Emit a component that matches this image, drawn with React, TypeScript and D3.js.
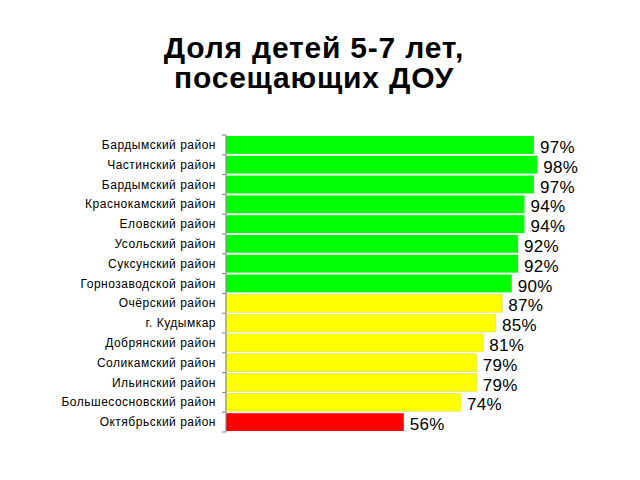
import React from "react";
import * as d3 from "d3";

const categories = [
  "Бардымский район",
  "Частинский район",
  "Бардымский район",
  "Краснокамский район",
  "Еловский район",
  "Усольский район",
  "Суксунский район",
  "Горнозаводской район",
  "Очёрский район",
  "г. Кудымкар",
  "Добрянский район",
  "Соликамский район",
  "Ильинский район",
  "Большесосновский район",
  "Октябрьский район",
];
const values = [97, 98, 97, 94, 94, 92, 92, 90, 87, 85, 81, 79, 79, 74, 56];
const colors = [
  "#00ff00", "#00ff00", "#00ff00", "#00ff00", "#00ff00", "#00ff00", "#00ff00", "#00ff00",
  "#ffff00", "#ffff00", "#ffff00", "#ffff00", "#ffff00", "#ffff00",
  "#ff0000",
];
const titleLines = ["Доля детей 5-7 лет,", "посещающих ДОУ"];

export default function App() {
  const W = 640, H = 480;
  const x = d3.scaleLinear().domain([0, 100]).range([226, 543.5]);
  const y = d3.scaleBand<number>().domain(d3.range(categories.length)).range([135, 432]).paddingInner(0.1).paddingOuter(0.05);
  const font = "Arial, 'Liberation Sans', sans-serif";
  const n = categories.length;
  return (
    <svg width={W} height={H} style={{ position: "absolute", left: 0, top: 0, background: "#fff" }}>
      <rect width={W} height={H} fill="#fff" />
      {titleLines.map((t, i) => (
        <text key={i} x={314} y={58 + i * 30} textAnchor="middle" fontFamily={font} fontWeight="bold" fontSize={30} letterSpacing={0.8} fill="#000">{t}</text>
      ))}
      {values.map((v, i) => (
        <g key={i}>
          <rect x={x(0)} y={y(i)!} width={x(v) - x(0)} height={y.bandwidth()} fill={colors[i]}
            stroke={colors[i] === "#ffff00" ? "#d8d860" : "none"} strokeWidth={0.6} />
          <text x={x(v) + 6} y={y(i)! + y.bandwidth() / 2 + 8} fontFamily={font} fontSize={17} fill="#000" letterSpacing={0.3}>{v}%</text>
          <text x={216} y={y(i)! + y.bandwidth() / 2 + 4} textAnchor="end" fontFamily={font} fontSize={12} letterSpacing={0.5} fill="#000">{categories[i]}</text>
        </g>
      ))}
      <line x1={226} x2={226} y1={135} y2={432} stroke="#808080" strokeWidth={1} />
      {d3.range(n + 1).map((i) => (
        <line key={i} x1={222} x2={226} y1={135 + i * ((432 - 135) / n)} y2={135 + i * ((432 - 135) / n)} stroke="#808080" strokeWidth={1} />
      ))}
    </svg>
  );
}
